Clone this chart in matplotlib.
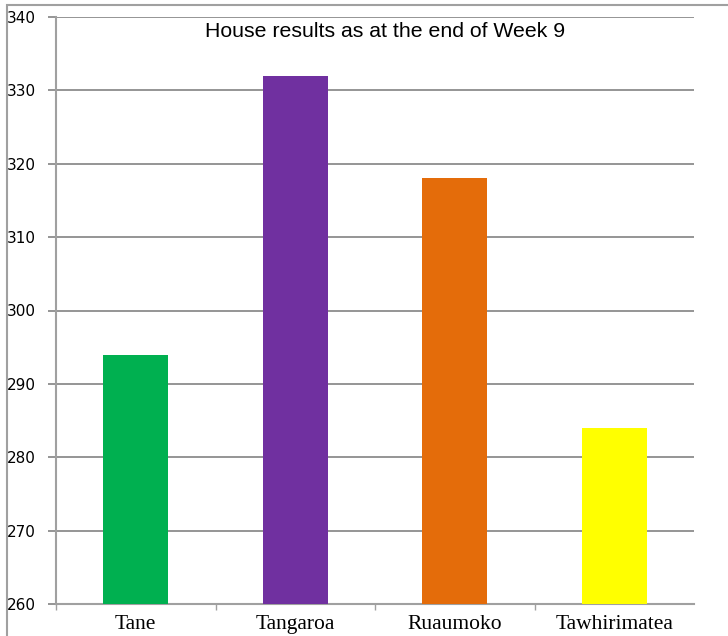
import matplotlib.pyplot as plt
from matplotlib.patches import Rectangle

houses = ['Tane', 'Tangaroa', 'Ruaumoko', 'Tawhirimatea']
points = [294, 332, 318, 284]
colours = ['#00b050', '#7030a0', '#e46c0a', '#ffff00']

fig = plt.figure(figsize=(7.28, 6.36), dpi=100)
ax = fig.add_axes([56 / 728, 32 / 636, 638 / 728, 587 / 636])

# Bars start from the bottom of the axis
ax.bar(range(len(houses)), [p - 260 for p in points], bottom=260,
       width=0.41, color=colours, zorder=3)

ax.set_xlim(-0.5, 3.5)
ax.set_ylim(260, 340)
ax.set_yticks(range(260, 341, 10))
ax.yaxis.grid(True, color='#8c8c8c', linewidth=1.3, zorder=0)

for s in ['top', 'right']:
    ax.spines[s].set_visible(False)
for s in ['left', 'bottom']:
    ax.spines[s].set_color('#a0a0a0')
    ax.spines[s].set_linewidth(1.5)

ax.tick_params(axis='y', length=6, color='#8c8c8c', width=1.3, labelsize=11, pad=8.5)

# Category labels under the bars, separators between categories
ax.set_xticks(range(len(houses)))
ax.set_xticklabels(houses, fontfamily='Liberation Serif', fontsize=15.5)
ax.tick_params(axis='x', length=0, pad=8)
ax.set_xticks([-0.5, 0.5, 1.5, 2.5], minor=True)
ax.tick_params(axis='x', which='minor', length=4, color='#a0a0a0', width=1)

ax.text(0.516, 0.992, 'House results as at the end of Week 9',
        transform=ax.transAxes, ha='center', va='top',
        fontfamily='Liberation Sans', fontsize=15.3)

# Outer chart frame
fig.patches.append(Rectangle((7 / 728, -0.1), 1.0, 631 / 636 + 0.1,
                             transform=fig.transFigure, fill=False,
                             edgecolor='#a0a0a0', linewidth=1.5))

fig.savefig('out.png', dpi=100)
